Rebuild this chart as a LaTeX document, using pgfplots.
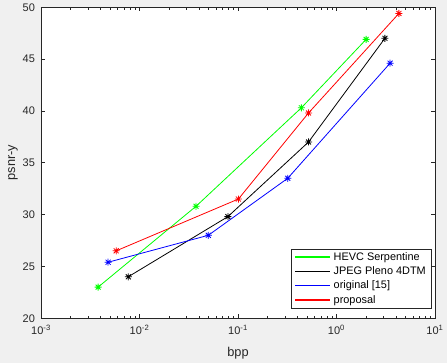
\documentclass[border=0pt]{standalone}
\usepackage{pgfplots}
\pgfplotsset{compat=1.18}
\usepackage{fontspec}
\setmainfont{Liberation Sans}
\definecolor{figbg}{RGB}{240,240,240}
\definecolor{axc}{RGB}{38,38,38}
\definecolor{mgreen}{RGB}{0,255,0}
\pgfdeclareplotmark{mstar}{%
 \pgfpathmoveto{\pgfpoint{-\pgfplotmarksize}{0pt}}\pgfpathlineto{\pgfpoint{\pgfplotmarksize}{0pt}}%
 \pgfpathmoveto{\pgfpoint{0pt}{-\pgfplotmarksize}}\pgfpathlineto{\pgfpoint{0pt}{\pgfplotmarksize}}%
 \pgfpathmoveto{\pgfpoint{-0.707\pgfplotmarksize}{-0.707\pgfplotmarksize}}\pgfpathlineto{\pgfpoint{0.707\pgfplotmarksize}{0.707\pgfplotmarksize}}%
 \pgfpathmoveto{\pgfpoint{-0.707\pgfplotmarksize}{0.707\pgfplotmarksize}}\pgfpathlineto{\pgfpoint{0.707\pgfplotmarksize}{-0.707\pgfplotmarksize}}%
 \pgfusepathqstroke}
\begin{document}
\begin{tikzpicture}[x=1pt,y=1pt]
\fill[figbg] (0,0) rectangle (447,363);
\begin{axis}[
  at={(41pt,45pt)}, anchor=south west,
  scale only axis, width=394pt, height=311pt,
  xmode=log, xmin=1e-3, xmax=10, ymin=20, ymax=50,
  xtick={1e-3,1e-2,1e-1,1,10},
  xticklabels={10\textsuperscript{-3},10\textsuperscript{-2},10\textsuperscript{-1},10\textsuperscript{0},10\textsuperscript{1}},
  ytick={20,25,...,50},
  /pgf/number format/assume math mode=true,
  every tick label/.append style={font=\fontsize{11}{13}\selectfont},
  label style={font=\fontsize{12.8}{15}\selectfont},
  axis background/.style={fill=white},
  axis line style={axc, line width=0.5pt},
  tick style={axc, line width=0.5pt},
  major tick length=4pt, minor tick length=2.5pt,
  tick align=inside,
  ticklabel style={text=axc},
  yticklabel style={xshift=-2.5pt},
  xticklabel style={yshift=-3pt},
  xlabel={bpp}, ylabel={psnr-y},
  xlabel style={at={(axis description cs:0.5,-0.113)}, anchor=center, text=axc},
  ylabel style={at={(axis description cs:-0.071,0.5)}, anchor=center, text=axc},
  legend style={at={(0.99,0.032)}, anchor=south east, draw=axc, line width=0.5pt, fill=white,
    font=\fontsize{10.9}{13}\selectfont, inner xsep=3pt, inner ysep=1.5pt, row sep=0.8pt, column sep=0.5pt},
  legend cell align=left,
  legend image code/.code={\draw[#1,line width=1.5pt,draw=.] (0pt,0pt) -- (35pt,0pt);},
  every axis plot/.append style={line width=0.8pt, mark=mstar, mark size=3.5pt, mark options={solid}},
]
\addplot[color=mgreen] coordinates {(0.0038,23.0) (0.0375,30.8) (0.44,40.3) (2.0,46.9)};
\addlegendentry{HEVC Serpentine}
\addplot[color=black] coordinates {(0.0077,24.0) (0.079,29.8) (0.52,37.0) (3.1,47.0)};
\addlegendentry{JPEG Pleno 4DTM\hspace{6pt}}
\addplot[color=blue] coordinates {(0.0048,25.4) (0.05,28.0) (0.32,33.5) (3.5,44.6)};
\addlegendentry{original [15]}
\addplot[color=red] coordinates {(0.0058,26.5) (0.101,31.5) (0.52,39.8) (4.3,49.4)};
\addlegendentry{proposal}
\end{axis}
\end{tikzpicture}
\end{document}
